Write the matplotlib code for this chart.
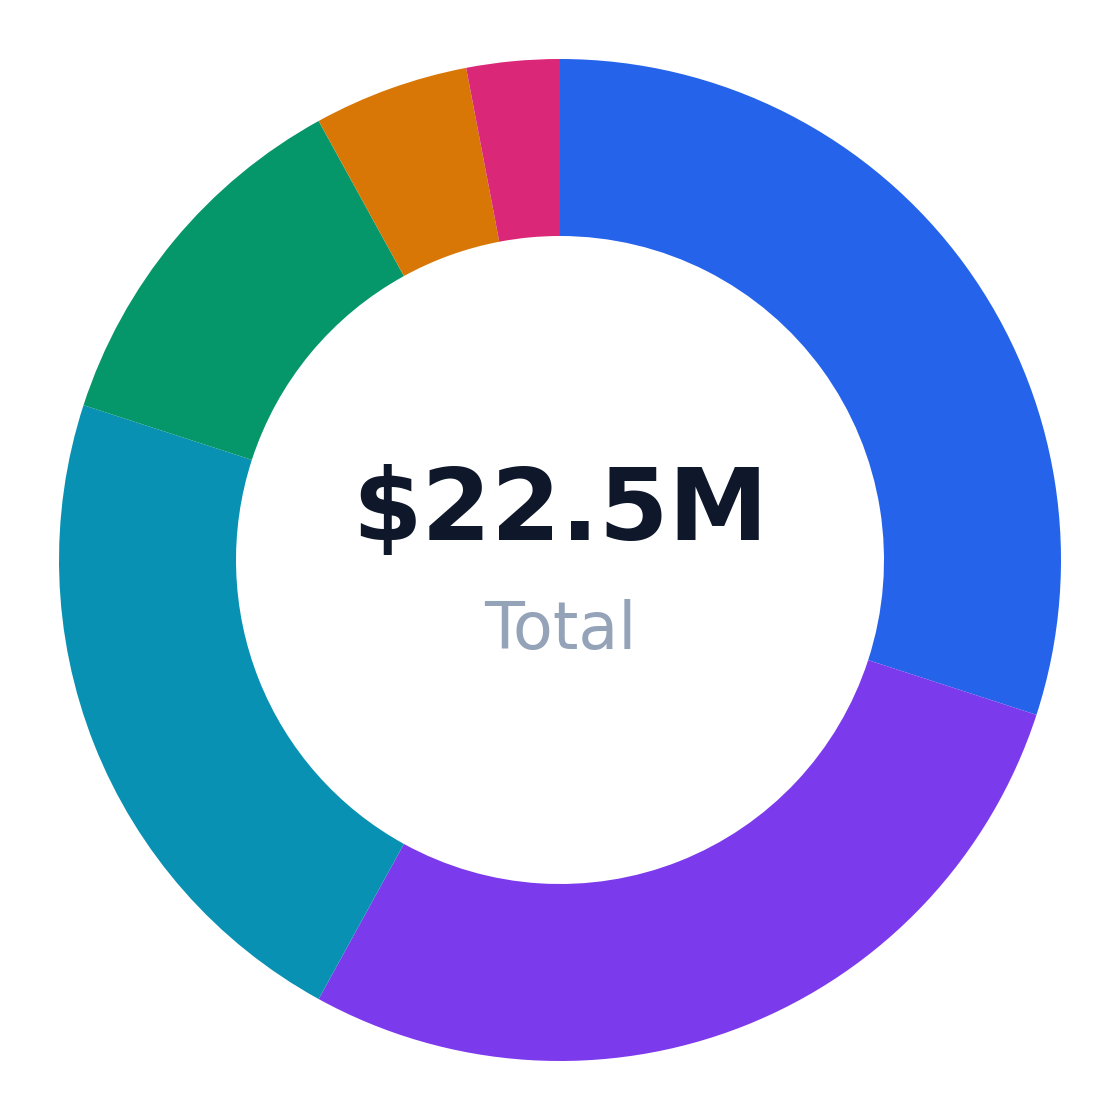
import matplotlib
matplotlib.use('Agg')
import matplotlib.pyplot as plt

# Segment values in $M (total 22.5)
segments = ['A', 'B', 'C', 'D', 'E', 'F']
values = [6.75, 6.30, 4.95, 2.70, 1.125, 0.675]
colors = ['#2563eb', '#7c3aed', '#0891b2', '#059669', '#d97706', '#db2777']
total_label = '$22.5M'
sub_label = 'Total'

fig = plt.figure(figsize=(11.2, 11.2), dpi=100)
ax = fig.add_axes([0, 0, 1, 1])

ax.pie(values, colors=colors, startangle=90, counterclock=False,
       radius=501 / 560, wedgeprops=dict(width=177 / 560, linewidth=0))

ax.text(0, 0.084, total_label, ha='center', va='center',
        fontsize=72, fontweight='bold', color='#0f172a')
ax.text(0, -0.127, sub_label, ha='center', va='center',
        fontsize=47, color='#94a3b8')

ax.set_xlim(-1, 1)
ax.set_ylim(-1, 1)
ax.set_aspect('equal')
ax.axis('off')

plt.savefig('out.png', dpi=100, facecolor='white')
plt.close()
